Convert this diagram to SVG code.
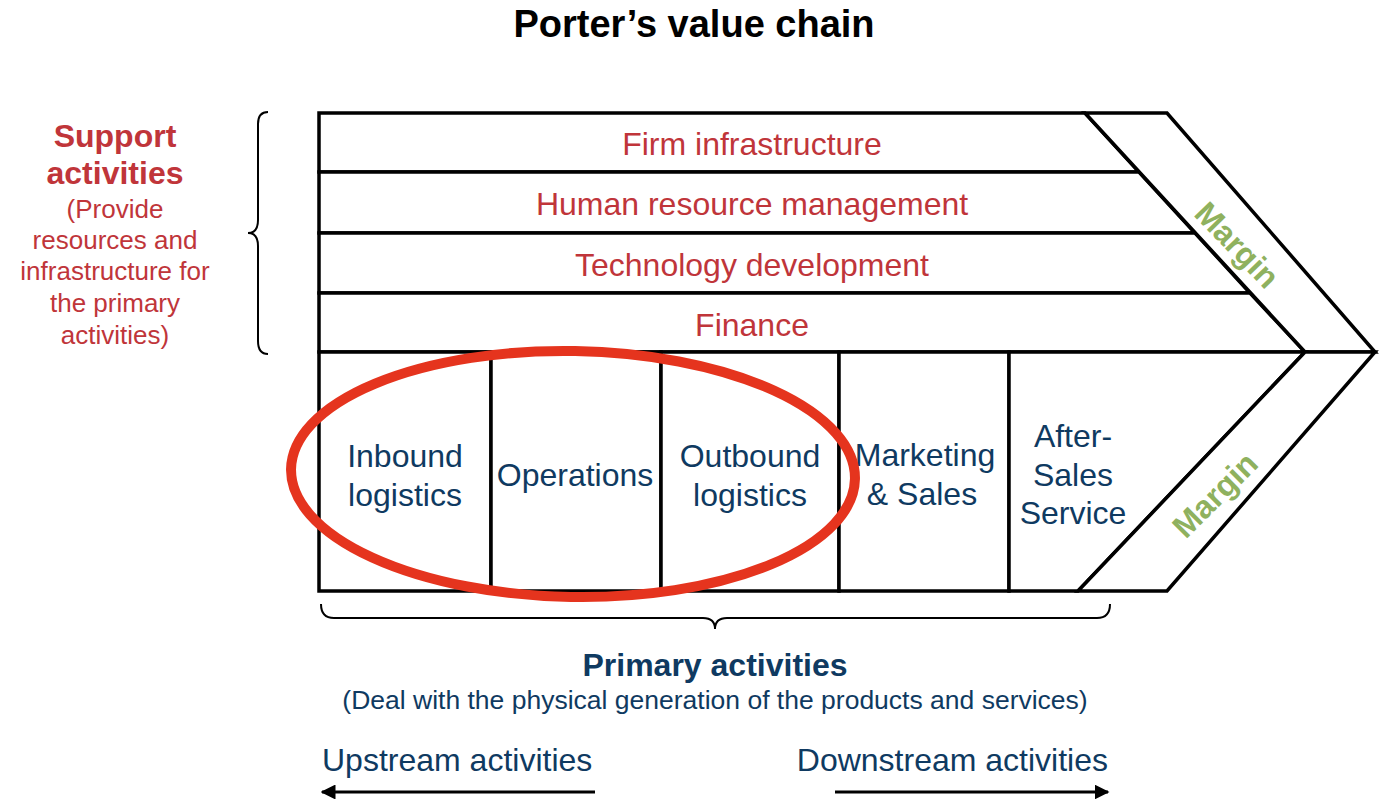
<svg xmlns="http://www.w3.org/2000/svg" width="1381" height="799" viewBox="0 0 1381 799">
<defs>
<style>
.cell{fill:#fff;stroke:#000;stroke-width:3.5;stroke-linejoin:miter}
.sup{font-family:"Liberation Sans",Arial,sans-serif;font-size:32px;fill:#c0353a;text-anchor:middle}
.pri{font-family:"Liberation Sans",Arial,sans-serif;font-size:32px;fill:#0f3a61;text-anchor:middle}
.mar{font-family:"Liberation Sans",Arial,sans-serif;font-size:32px;font-weight:bold;fill:#8fb15e;text-anchor:middle}
.brace{fill:none;stroke:#000;stroke-width:2}
.arr{stroke:#000;stroke-width:3;fill:none}
</style>
<marker id="ah" viewBox="0 0 10 10" refX="9" refY="5" markerWidth="5" markerHeight="5" orient="auto" markerUnits="strokeWidth">
<path d="M0,0 L10,5 L0,10 z" fill="#000"/>
</marker>
</defs>
<rect width="1381" height="799" fill="#fff"/>
<text x="694" y="37" font-family="Liberation Sans,Arial,sans-serif" font-size="38" font-weight="bold" text-anchor="middle" fill="#000">Porter’s value chain</text>

<g id="firm-infrastructure"><polygon class="cell" points="319,113 1085,113 1139,172 319,172"/><text class="sup" x="752" y="155">Firm infrastructure</text></g>
<g id="hr-management"><polygon class="cell" points="319,172 1139,172 1195,233 319,233"/><text class="sup" x="752" y="215">Human resource management</text></g>
<g id="technology-development"><polygon class="cell" points="319,233 1195,233 1250,293 319,293"/><text class="sup" x="752" y="276">Technology development</text></g>
<g id="finance"><polygon class="cell" points="319,293 1250,293 1305,352 319,352"/><text class="sup" x="752" y="336">Finance</text></g>
<g id="margin-top"><polygon class="cell" points="1085,113 1167,113 1375,352 1305,352"/><text class="mar" transform="translate(1237,245) rotate(46)" x="0" y="11">Margin</text></g>

<g id="inbound-logistics"><rect class="cell" x="319" y="352" width="172" height="239"/><text class="pri" x="405" y="467">Inbound</text><text class="pri" x="405" y="506">logistics</text></g>
<g id="operations"><rect class="cell" x="491" y="352" width="170" height="239"/><text class="pri" x="575" y="486">Operations</text></g>
<g id="outbound-logistics"><rect class="cell" x="661" y="352" width="178" height="239"/><text class="pri" x="750" y="467">Outbound</text><text class="pri" x="750" y="506">logistics</text></g>
<g id="marketing-sales"><rect class="cell" x="839" y="352" width="170" height="239"/><text class="pri" x="925" y="466">Marketing</text><text class="pri" x="922" y="505">&amp; Sales</text></g>
<g id="after-sales-service"><polygon class="cell" points="1009,352 1305,352 1078,591 1009,591"/><text class="pri" x="1073" y="447">After-</text><text class="pri" x="1073" y="486">Sales</text><text class="pri" x="1073" y="524">Service</text></g>
<g id="margin-bottom"><polygon class="cell" points="1305,352 1375,352 1167,591 1078,591"/><text class="mar" transform="translate(1215,495) rotate(-45)" x="0" y="11">Margin</text></g>

<g id="focus-ellipse"><ellipse cx="573" cy="474" rx="282" ry="123" fill="none" stroke="#e5341e" stroke-width="10" transform="rotate(1 573 474)"/></g>

<g id="support-label">
<text font-family="Liberation Sans,Arial,sans-serif" font-size="32" font-weight="bold" fill="#c0353a" text-anchor="middle"><tspan x="115" y="147">Support</tspan><tspan x="115" y="184">activities</tspan></text>
<text font-family="Liberation Sans,Arial,sans-serif" font-size="26" fill="#c0353a" text-anchor="middle"><tspan x="115" y="218">(Provide</tspan><tspan x="115" y="249">resources and</tspan><tspan x="115" y="280">infrastructure for</tspan><tspan x="115" y="312">the primary</tspan><tspan x="115" y="344">activities)</tspan></text>
</g>
<g id="primary-label">
<text x="715" y="676" font-family="Liberation Sans,Arial,sans-serif" font-size="32" font-weight="bold" fill="#0f3a61" text-anchor="middle">Primary activities</text>
<text x="715" y="709" font-family="Liberation Sans,Arial,sans-serif" font-size="26.5" fill="#0f3a61" text-anchor="middle">(Deal with the physical generation of the products and services)</text>
</g>
<g id="upstream"><text x="322" y="771" font-family="Liberation Sans,Arial,sans-serif" font-size="32" fill="#0f3a61">Upstream activities</text></g>
<g id="downstream"><text x="1108" y="771" font-family="Liberation Sans,Arial,sans-serif" font-size="32" fill="#0f3a61" text-anchor="end">Downstream activities</text></g>

<g id="connectors">
<path class="brace" d="M268,112 Q258,112 258,124 L258,220 Q258,233 248,233 Q258,233 258,246 L258,341 Q258,354 268,354"/>
<path class="brace" d="M321,604 Q321,618 334,618 L703,618 Q715,618 715,629 Q715,618 727,618 L1097,618 Q1110,618 1110,604"/>
<line class="arr" x1="595" y1="792" x2="322" y2="792" marker-end="url(#ah)"/>
<line class="arr" x1="835" y1="792" x2="1108" y2="792" marker-end="url(#ah)"/>
</g>
</svg>
